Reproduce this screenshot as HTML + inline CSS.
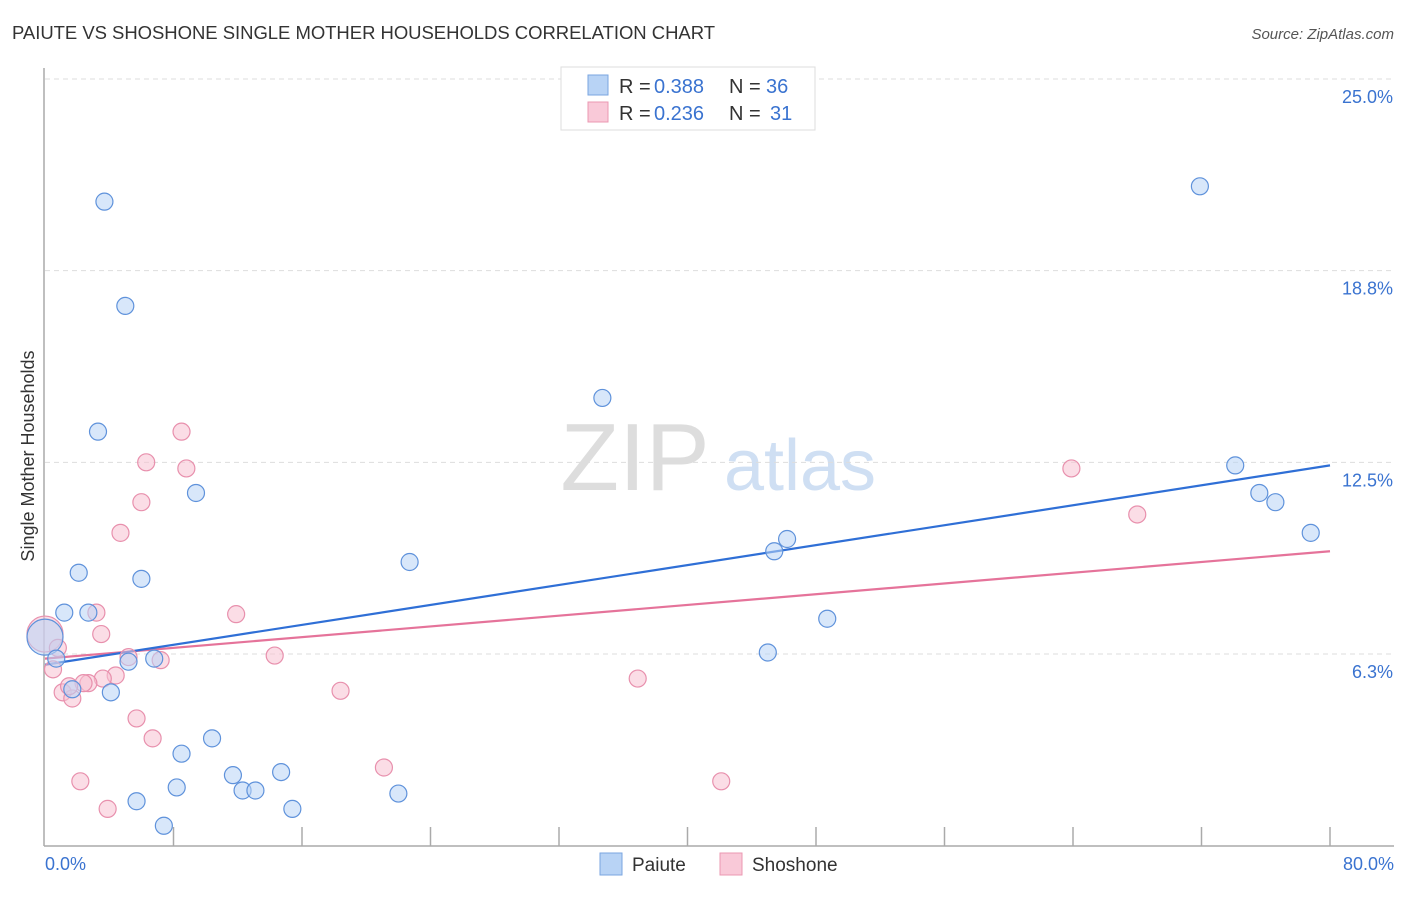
<!DOCTYPE html>
<html><head><meta charset="utf-8"><style>
body{margin:0;background:#fff;font-family:"Liberation Sans",sans-serif;}
svg text{font-family:"Liberation Sans",sans-serif;}
</style></head><body>
<svg id="c" width="1406" height="892">
<text x="12" y="39" font-size="18.5" fill="#333" textLength="703">PAIUTE VS SHOSHONE SINGLE MOTHER HOUSEHOLDS CORRELATION CHART</text>
<text x="1394" y="39" font-size="15" fill="#555" font-style="italic" text-anchor="end">Source: ZipAtlas.com</text>
<text x="34" y="456" font-size="18" fill="#333" text-anchor="middle" transform="rotate(-90 34 456)">Single Mother Households</text>
<g><text x="635" y="490" font-size="96" fill="#ddd" font-family="Liberation Serif" text-anchor="middle">ZIP</text><text x="800" y="490" font-size="72" fill="#cfdff3" text-anchor="middle">atlas</text></g>
<g id="grid"></g><g id="axes"></g><g id="lines"></g><g id="pts"></g>
<g>
<rect x="561" y="67" width="254" height="63" fill="#fff" stroke="#ddd"/>
<rect x="588" y="75" width="20" height="20" fill="#b8d3f5" stroke="#7aa6e0"/>
<text x="619" y="93" font-size="20" fill="#333">R =</text><text x="654" y="93" font-size="20" fill="#3a73d0">0.388</text>
<text x="729" y="93" font-size="20" fill="#333">N =</text><text x="766" y="93" font-size="20" fill="#3a73d0">36</text>
<rect x="588" y="102" width="20" height="20" fill="#f9c9d8" stroke="#eb98b2"/>
<text x="619" y="120" font-size="20" fill="#333">R =</text><text x="654" y="120" font-size="20" fill="#3a73d0">0.236</text>
<text x="729" y="120" font-size="20" fill="#333">N =</text><text x="770" y="120" font-size="20" fill="#3a73d0">31</text>
</g>
<g>
<rect x="600" y="853" width="22" height="22" fill="#b8d3f5" stroke="#7aa6e0"/><text x="632" y="871" font-size="19" fill="#333">Paiute</text>
<rect x="720" y="853" width="22" height="22" fill="#f9c9d8" stroke="#eb98b2"/><text x="752" y="871" font-size="19" fill="#333">Shoshone</text>
</g>
</svg>
<script>
const yTicks=[6.25,12.5,18.75,25];
const yTickLabels=["6.3%","12.5%","18.8%","25.0%"];
const xTickLabels=["0.0%","80.0%"];
const paiuteX=[3.7,5.0,3.3,34.7,71.9,9.4,74.1,75.6,76.6,78.8,46.2,45.4,22.7,2.1,6.0,1.2,2.7,48.7,0,0.7,5.2,6.8,45.0,1.7,4.1,10.4,8.5,11.7,14.7,12.3,13.1,8.2,5.7,22.0,15.4,7.4];
const paiuteY=[21.0,17.6,13.5,14.6,21.5,11.5,12.4,11.5,11.2,10.2,10.0,9.6,9.25,8.9,8.7,7.6,7.6,7.4,6.8,6.1,6.0,6.1,6.3,5.1,5.0,3.5,3.0,2.3,2.4,1.8,1.8,1.9,1.45,1.7,1.2,0.65];
const shoshoneX=[8.5,6.3,8.8,6.0,4.7,63.9,68.0,3.2,11.9,3.5,0,0.8,0.5,5.2,7.2,14.3,4.4,3.6,2.7,2.4,1.1,1.7,18.4,36.9,5.7,6.7,2.2,21.1,42.1,3.9,1.5];
const shoshoneY=[13.5,12.5,12.3,11.2,10.2,12.3,10.8,7.6,7.55,6.9,6.9,6.45,5.75,6.15,6.05,6.2,5.55,5.45,5.3,5.3,5.0,4.8,5.05,5.45,4.15,3.5,2.1,2.55,2.1,1.2,5.2];
const trendStart=[5.9,6.1];
const trendEnd=[12.4,9.6];
const NS="http://www.w3.org/2000/svg";
const X=v=>45+v*(1285/80), Y=v=>845.7-v*30.67;
function mk(t,a,p){const e=document.createElementNS(NS,t);for(const k in a)e.setAttribute(k,a[k]);document.getElementById(p).appendChild(e);return e;}
yTicks.forEach((t,i)=>{
 const g=mk('line',{x1:45,x2:1394,y1:Y(t),y2:Y(t),stroke:'#ddd','stroke-dasharray':'5,4'},'grid');
 
 
 const l=mk('text',{x:1393,y:Y(t)+24,'font-size':18,fill:'#3a73d0','text-anchor':'end'},'grid');l.textContent=yTickLabels[i];
 
 
});
const ax=mk('line',{x1:44,x2:44,y1:68,y2:846,stroke:'#aaa','stroke-width':1.5},'axes');


const bx=mk('line',{x1:44,x2:1394,y1:846,y2:846,stroke:'#aaa','stroke-width':1.5},'axes');


for(let i=1;i<=10;i++){const t=mk('line',{x1:X(i*8),x2:X(i*8),y1:827,y2:846,stroke:'#aaa','stroke-width':1.5},'axes');
 
 }
[[0,'start',45],[80,'end',1394]].forEach((d,i)=>{const t=mk('text',{x:d[2],y:870,'font-size':18,fill:'#3a73d0','text-anchor':d[1]},'axes');t.textContent=xTickLabels[i];
 
 });
function pts(xs,ys,fill,stroke,name){xs.forEach((x,i)=>{const big=(x===0);
 const c=mk('circle',{cx:X(x),cy:Y(ys[i]),r:big?18:8.5,fill:fill,'fill-opacity':0.55,stroke:stroke,'stroke-width':1.2},'pts');
 
 });}
pts(shoshoneX,shoshoneY,'#f7c1d2','#e890ad','shoshone-point');
pts(paiuteX,paiuteY,'#b8d3f5','#5f92db','paiute-point');
const cols=['#2f6fd6','#e5739a'],nm=['paiute-trend-line','shoshone-trend-line'];
for(let i=1;i>=0;i--){const l=mk('line',{x1:X(0),y1:Y(trendStart[i]),x2:X(80),y2:Y(trendEnd[i]),stroke:cols[i],'stroke-width':2.2},'lines');
 
 }
</script>
</body></html>
